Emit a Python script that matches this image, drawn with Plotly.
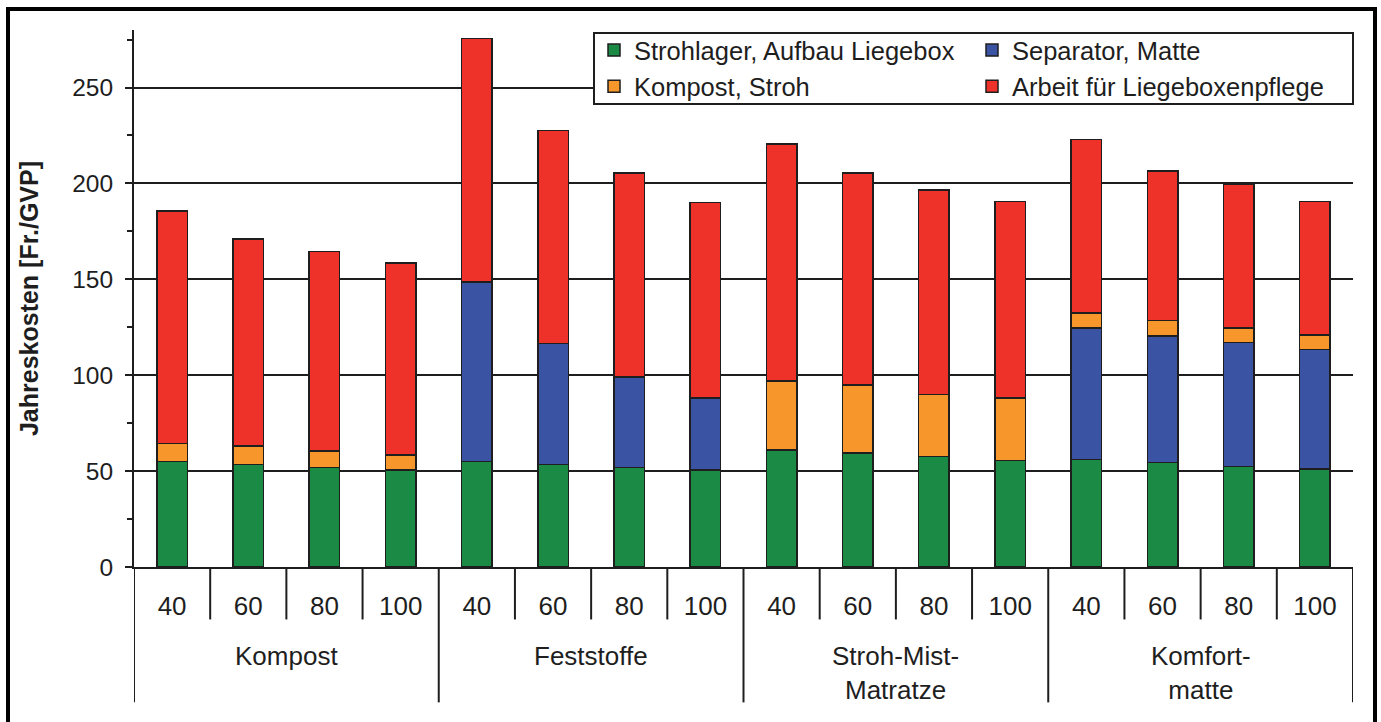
import plotly.graph_objects as go

# Stall-bedding variants and animal numbers
groups = ["Kompost", "Feststoffe", "Stroh-Mist-<br>Matratze", "Komfort-<br>matte"]
herd_sizes = ["40", "60", "80", "100"]

# Annual cost components [Fr./GVP], stacked bottom to top
strohlager = [55, 53.5, 52, 50.5, 55, 53.5, 52, 50.5, 61, 59.5, 57.5, 55.5, 56, 54.5, 52.5, 51]
separator = [None, None, None, None, 93.5, 63, 47, 37.5, None, None, None, None, 68.5, 66, 64.5, 62.5]
kompost_stroh = [9.5, 9.5, 8.5, 8, None, None, None, None, 36, 35.5, 32.5, 32.5, 8, 8, 7.5, 7.5]
arbeit = [121, 108, 104, 100, 127, 111, 106.5, 102, 123.5, 110.5, 106.5, 102.5, 90.5, 78, 75, 69.5]

series = [
    ("Strohlager, Aufbau Liegebox", strohlager, "#1b8a45", "legend"),
    ("Separator, Matte", separator, "#3a53a3", "legend2"),
    ("Kompost, Stroh", kompost_stroh, "#f7962b", "legend"),
    ("Arbeit für Liegeboxenpflege", arbeit, "#ee3229", "legend2"),
]

W, H = 1381, 722
PL, PR, PT, PB = 134, 1353, 30, 567.5
FONT = "Arial, 'Liberation Sans', sans-serif"
INK = "#1e1e1e"


def fx(p):
    return (p - PL) / (PR - PL)


def fy(p):
    return (PB - p) / (PB - PT)


n = len(groups) * len(herd_sizes)
xpos = list(range(n))
ticktext = [s for _ in groups for s in herd_sizes]

fig = go.Figure()
for name, vals, color, leg in series:
    fig.add_trace(go.Bar(
        x=xpos, y=vals, name=name, legend=leg,
        width=0.4,
        marker=dict(color=color, line=dict(color=INK, width=1.5)),
    ))

shapes = []
# legend box
shapes.append(dict(type="rect", xref="paper", yref="paper",
                   x0=fx(594), x1=fx(1353), y0=fy(104), y1=fy(33),
                   fillcolor="white", line=dict(color=INK, width=2), layer="above"))
# category separators below the axis
for i in range(n + 1):
    long_line = i % len(herd_sizes) == 0
    shapes.append(dict(type="line", xref="x", yref="paper",
                       x0=i - 0.5, x1=i - 0.5, y0=0,
                       y1=fy(703) if long_line else fy(620),
                       line=dict(color=INK, width=2)))
# outer frame
shapes.append(dict(type="rect", xref="paper", yref="paper",
                   x0=fx(8), x1=fx(1375), y0=fy(740), y1=fy(9),
                   line=dict(color="black", width=4)))

annotations = []
for g, name in enumerate(groups):
    annotations.append(dict(
        x=g * len(herd_sizes) + (len(herd_sizes) - 1) / 2, xref="x",
        y=fy(640), yref="paper", yanchor="top", xanchor="center",
        text=name, showarrow=False,
        font=dict(family=FONT, size=26, color=INK),
    ))

legend_font = dict(family=FONT, size=25.5, color=INK)

fig.update_layout(
    width=W, height=H,
    margin=dict(l=PL, r=W - PR, t=PT, b=H - PB, pad=0),
    paper_bgcolor="white", plot_bgcolor="white",
    barmode="stack",
    font=dict(family=FONT, size=24, color=INK),
    showlegend=True,
    legend=dict(x=fx(594), y=fy(27), xanchor="left", yanchor="top",
                bgcolor="rgba(0,0,0,0)", borderwidth=0,
                font=legend_font, traceorder="normal"),
    legend2=dict(x=fx(972), y=fy(27), xanchor="left", yanchor="top",
                 bgcolor="rgba(0,0,0,0)", borderwidth=0,
                 font=legend_font, traceorder="normal"),
    shapes=shapes,
    annotations=annotations,
    bargap=0.6,
)

fig.update_xaxes(
    range=[-0.5, n - 0.5], tickmode="array", tickvals=xpos, ticktext=ticktext,
    showline=True, linecolor=INK, linewidth=2, ticks="", showgrid=False,
    zeroline=False, ticklabelstandoff=15,
    tickfont=dict(family=FONT, size=26, color=INK),
)
fig.update_yaxes(
    range=[0, 280], tick0=0, dtick=50,
    showline=True, linecolor=INK, linewidth=2,
    ticks="outside", ticklen=7, tickwidth=2, tickcolor=INK,
    minor=dict(tick0=0, dtick=25, ticks="outside", ticklen=5, tickwidth=2,
               tickcolor=INK, showgrid=False),
    showgrid=True, gridcolor=INK, gridwidth=1.5, zeroline=False,
    ticklabelstandoff=7,
    tickfont=dict(family=FONT, size=24.5, color=INK),
    title=dict(text="<b>Jahreskosten [Fr./GVP]</b>", standoff=26,
               font=dict(family=FONT, size=25, color=INK)),
)

fig.write_html("out.html")
